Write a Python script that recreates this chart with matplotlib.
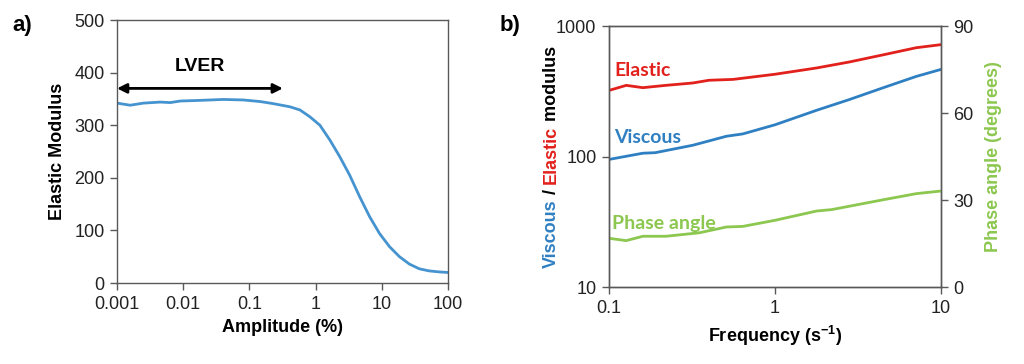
import matplotlib
matplotlib.use("Agg")
import matplotlib.pyplot as plt
from matplotlib.ticker import FixedLocator, NullLocator, FuncFormatter

plt.rcParams["font.family"] = ["Liberation Sans", "DejaVu Sans"]
plt.rcParams["mathtext.fontset"] = "custom"
plt.rcParams["mathtext.rm"] = "Liberation Sans"
plt.rcParams["mathtext.bf"] = "Liberation Sans:bold"

# ---------------- data: panel a (amplitude sweep) ----------------
amp_pct = [0.001, 0.00158, 0.0025, 0.0045, 0.00635, 0.009, 0.016, 0.0405,
           0.081, 0.145, 0.23, 0.41, 0.58, 0.82, 1.16, 1.64, 2.32, 3.27,
           4.63, 6.55, 9.25, 13.1, 18.5, 26.1, 36.9, 52, 75, 100]
elastic_a = [342, 338, 342, 344, 343, 346, 347, 349,
             348, 345, 341, 335, 329, 316, 300, 272, 240, 205,
             164, 126, 94, 69, 50, 36, 27, 23, 21, 20]
lver_range = [0.001, 0.32]
lver_level = 370

# ---------------- data: panel b (frequency sweep) ----------------
freq = [0.1, 0.127, 0.16, 0.22, 0.32, 0.4, 0.56, 1.0, 1.78, 2.8, 4.5, 7.1, 10]
elastic_b = [321, 351, 337, 351, 366, 384, 390, 427, 477, 530, 602, 682, 720]

freq_v = [0.1, 0.16, 0.19, 0.32, 0.51, 0.64, 1.0, 1.78, 2.8, 4.5, 7.1, 10]
viscous_b = [95, 106, 107, 122, 143, 149, 175, 226, 273, 337, 411, 465]

freq_p = [0.1, 0.127, 0.16, 0.22, 0.35, 0.51, 0.64, 1.0, 1.78, 2.2, 4.5, 7.1, 10]
phase_b = [16.8, 16.0, 17.5, 17.5, 18.7, 20.7, 20.9, 23.0, 26.2, 26.7, 30.1, 32.2, 33.1]

BLUE_A = "#4593cf"
RED = "#e2211c"
BLUE = "#2f80c2"
GREEN = "#8cc74f"
GREY = "#595959"

TICK_FS = 13
LABEL_FS = 13


def style_box(ax):
    for sp in ax.spines.values():
        sp.set_color(GREY)
        sp.set_linewidth(1.0)
    ax.tick_params(direction="out", length=5, width=1.0, color=GREY,
                   labelsize=TICK_FS, labelcolor="#222222", pad=4)


def log_fmt(v, _):
    return f"{v:g}"


fig = plt.figure(figsize=(10.24, 3.64), dpi=100)

# ---------------- panel a ----------------
ax1 = fig.add_axes([0.1143, 0.2225, 0.3232, 0.7225])
ax1.plot(amp_pct, elastic_a, color=BLUE_A, lw=2.0)
ax1.set_xscale("log")
ax1.set_xlim(0.001, 100)
ax1.set_ylim(0, 500)
ax1.xaxis.set_major_locator(FixedLocator([0.001, 0.01, 0.1, 1, 10, 100]))
ax1.xaxis.set_minor_locator(NullLocator())
ax1.xaxis.set_major_formatter(FuncFormatter(log_fmt))
ax1.set_yticks([0, 100, 200, 300, 400, 500])
style_box(ax1)
ax1.set_xlabel("Amplitude (%)", fontsize=LABEL_FS, fontweight="bold", labelpad=5)
ax1.set_ylabel("Elastic Modulus", fontsize=LABEL_FS, fontweight="bold", labelpad=6)

ax1.annotate("", xy=(lver_range[0], lver_level), xytext=(lver_range[1], lver_level),
             arrowprops=dict(arrowstyle="<|-|>", color="black", lw=2.0,
                             mutation_scale=14, shrinkA=0, shrinkB=0))
ax1.text(0.018, 411, "LVER", fontsize=14, fontweight="bold", ha="center", va="center")
fig.text(0.012, 0.93, "a)", fontsize=16, fontweight="bold", va="center")

# ---------------- panel b ----------------
ax2 = fig.add_axes([0.5947, 0.2115, 0.3242, 0.717])
ax2.plot(freq, elastic_b, color=RED, lw=2.0)
ax2.plot(freq_v, viscous_b, color=BLUE, lw=2.0)
ax2.set_yscale("log")
ax2.set_ylim(10, 1000)
ax2.yaxis.set_major_locator(FixedLocator([10, 100, 1000]))
ax2.yaxis.set_minor_locator(NullLocator())
ax2.yaxis.set_major_formatter(FuncFormatter(log_fmt))

ax3 = ax2.twinx()
ax3.plot(freq_p, phase_b, color=GREEN, lw=2.0)
ax3.set_ylim(0, 90)
ax3.set_yticks([0, 30, 60, 90])

ax2.set_xscale("log")
ax2.set_xlim(0.1, 10)
ax2.xaxis.set_major_locator(FixedLocator([0.1, 1, 10]))
ax2.xaxis.set_minor_locator(NullLocator())
ax2.xaxis.set_major_formatter(FuncFormatter(log_fmt))
style_box(ax2)
style_box(ax3)
ax2.set_xlabel("Frequency (s$^{\\mathbf{-1}}$)", fontsize=LABEL_FS, fontweight="bold", labelpad=5)
ax3.set_ylabel("Phase angle (degrees)", fontsize=LABEL_FS, fontweight="bold",
               color=GREEN, labelpad=8)

lab_font = ["Lato", "DejaVu Sans"]
ax2.text(0.108, 457, "Elastic", color=RED, fontsize=14, fontweight="bold",
         family=lab_font, va="center", ha="left")
ax2.text(0.108, 141, "Viscous", color=BLUE, fontsize=14, fontweight="bold",
         family=lab_font, va="center", ha="left")
ax3.text(0.104, 22, "Phase angle", color=GREEN, fontsize=14, fontweight="bold",
         family=lab_font, va="center", ha="left")

fig.text(0.488, 0.93, "b)", fontsize=16, fontweight="bold", va="center")

# multicoloured rotated y label for panel b
fig.canvas.draw()
renderer = fig.canvas.get_renderer()
pieces = [("Viscous", BLUE), (" / ", "black"), ("Elastic", RED), (" modulus", "black")]
x_px = 551
y_px = 364 - 268
for txt, col in pieces:
    t = fig.text(x_px / 1024, y_px / 364, txt, rotation=90, color=col,
                 fontsize=LABEL_FS, fontweight="bold", ha="center", va="bottom")
    bb = t.get_window_extent(renderer)
    y_px = bb.y1

fig.savefig("out.png", dpi=100)
